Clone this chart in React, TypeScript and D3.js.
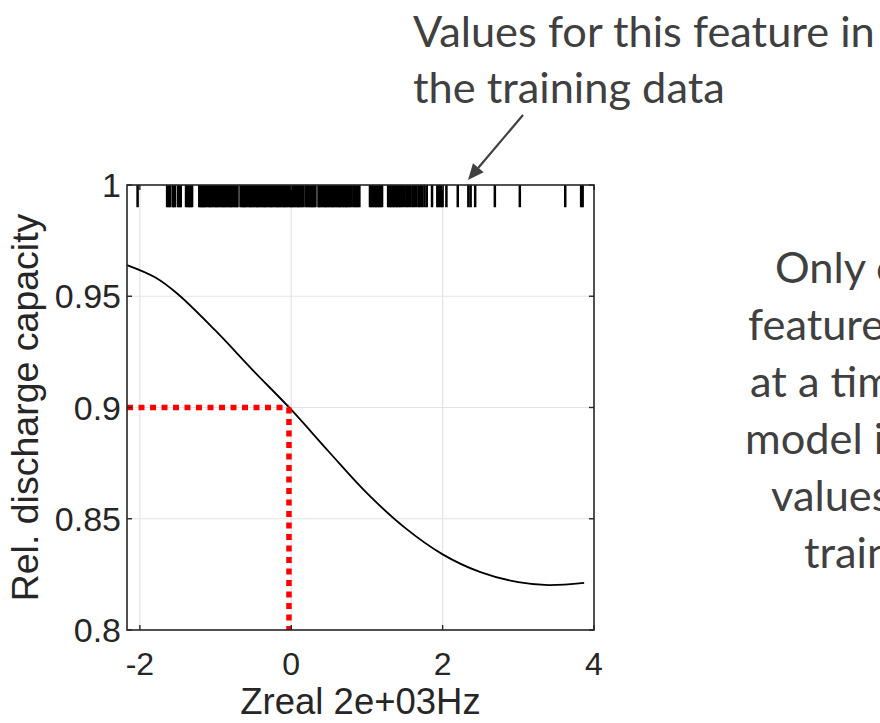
import React, { useEffect, useRef } from "react";
import * as d3 from "d3";

// ---- data ----
const curveX = [-2.17, -1.8, -1.5, -1.0, -0.5, 0, 0.5, 1.0, 1.5, 2.0, 2.5, 3.0, 3.4, 3.87];
const curveY = [0.964, 0.9585, 0.951, 0.9345, 0.9165, 0.899, 0.88, 0.8615, 0.846, 0.834, 0.826, 0.8215, 0.8202, 0.8212];

const rugValues = [
  -2.03, -1.64, -1.62, -1.6, -1.565, -1.55, -1.535, -1.495, -1.475, -1.46,
  -1.39, -1.37, -1.35, -1.33, -1.31, -1.215, -1.2, -1.185, -1.17, -1.155, -1.14, -1.125,
  -1.1, -1.08, -1.07, -1.05, -1.03, -1.01, -0.99, -0.98, -0.96, -0.94, -0.92, -0.9, -0.89, -0.87, -0.85,
  -0.83, -0.81, -0.8, -0.78, -0.76, -0.74, -0.72, -0.71, -0.67, -0.65, -0.63, -0.62, -0.6, -0.58,
  -0.56, -0.54, -0.53, -0.51, -0.49, -0.47, -0.45, -0.44, -0.42, -0.4, -0.38, -0.36, -0.35, -0.33, -0.31,
  -0.29, -0.27, -0.26, -0.24, -0.22, -0.2, -0.18, -0.17, -0.15, -0.13, -0.11, -0.09, -0.08, -0.06, -0.04,
  -0.02, 0.0, 0.01, 0.03, 0.05, 0.07, 0.09, 0.1, 0.12, 0.14, 0.16, 0.19, 0.21, 0.23, 0.25, 0.27,
  0.28, 0.3, 0.32, 0.36, 0.37, 0.39, 0.41, 0.43, 0.45, 0.46, 0.48, 0.5, 0.52, 0.54, 0.55, 0.57, 0.59,
  0.61, 0.63, 0.64, 0.66, 0.68, 0.7, 0.72, 0.73, 0.75, 0.77, 0.79, 0.82, 0.84, 0.86, 0.88, 0.9,
  1.04, 1.06, 1.08, 1.1, 1.12, 1.14, 1.16, 1.18, 1.2,
  1.28, 1.3, 1.32, 1.34, 1.36, 1.38, 1.4, 1.42, 1.44, 1.46,
  1.49, 1.52, 1.54, 1.57, 1.6, 1.62, 1.65, 1.68, 1.7, 1.73, 1.76, 1.79,
  1.86, 1.93, 1.95, 1.98, 2.0, 2.05, 2.2, 2.34, 2.37, 2.43, 2.69, 3.02, 3.62, 3.83, 3.85,
];

const xTicks = [-2, 0, 2, 4];
const yTicks = [0.8, 0.85, 0.9, 0.95, 1];
const yTickLabels = ["0.8", "0.85", "0.9", "0.95", "1"];
const markerX = -0.03;
const markerY = 0.9;
const xLabel = "Zreal 2e+03Hz";
const yLabel = "Rel. discharge capacity";
const noteTop = ["Values for this feature in", "the training data"];
const noteRight = ["Only one", "feature changed", "at a time; the", "model is evaluated", "values from the", "training data"];
const noteRightX = [775, 748, 750, 745, 771, 804];

const W = 880;
const H = 723;
const PLOT = { left: 127, right: 594, top: 185, bottom: 630 };

export default function App() {
  const ref = useRef<SVGSVGElement | null>(null);

  useEffect(() => {
    const svg = d3.select(ref.current);
    svg.selectAll("*").remove();

    const x = d3.scaleLinear().domain([-2.17, 4.0]).range([PLOT.left, PLOT.right]);
    const y = d3.scaleLinear().domain([0.8, 1]).range([PLOT.bottom, PLOT.top]);

    const axisColor = "#262626";
    const gridColor = "#e3e3e3";
    const tickFont = "'Liberation Sans', Arial, Helvetica, sans-serif";

    svg.append("rect").attr("x", PLOT.left).attr("y", PLOT.top)
      .attr("width", PLOT.right - PLOT.left).attr("height", PLOT.bottom - PLOT.top).attr("fill", "#fff");

    // grid
    const g = svg.append("g");
    g.selectAll("line.gx").data(xTicks.filter((t) => t > -2.17 && t < 4)).enter().append("line")
      .attr("x1", (d) => x(d)).attr("x2", (d) => x(d))
      .attr("y1", PLOT.top).attr("y2", PLOT.bottom)
      .attr("stroke", gridColor).attr("stroke-width", 1.2);
    g.selectAll("line.gy").data(yTicks.filter((t) => t > 0.8 && t < 1)).enter().append("line")
      .attr("y1", (d) => y(d)).attr("y2", (d) => y(d))
      .attr("x1", PLOT.left).attr("x2", PLOT.right)
      .attr("stroke", gridColor).attr("stroke-width", 1.2);

    // curve
    const pts = curveX.map((v, i) => [v, curveY[i]] as [number, number]);
    const line = d3.line<[number, number]>().x((d) => x(d[0])).y((d) => y(d[1])).curve(d3.curveCatmullRom);
    svg.append("path").attr("d", line(pts)).attr("fill", "none").attr("stroke", "#000").attr("stroke-width", 1.8);

    // red dotted marker lines
    svg.append("path")
      .attr("d", `M${x(-2.17)},${y(markerY)}H${x(markerX)}`)
      .attr("stroke", "#ff0000").attr("stroke-width", 5.5).attr("stroke-dasharray", "6 5.5").attr("fill", "none");
    svg.append("path")
      .attr("d", `M${x(markerX)},${y(markerY)}V${y(0.8)}`)
      .attr("stroke", "#ff0000").attr("stroke-width", 5.5).attr("stroke-dasharray", "6 5.5").attr("fill", "none");

    // rug
    svg.append("g").selectAll("line").data(rugValues).enter().append("line")
      .attr("x1", (d) => x(d)).attr("x2", (d) => x(d))
      .attr("y1", y(1)).attr("y2", y(0.99))
      .attr("stroke", "#000").attr("stroke-width", 2.5);

    // box
    svg.append("rect").attr("x", PLOT.left).attr("y", PLOT.top)
      .attr("width", PLOT.right - PLOT.left).attr("height", PLOT.bottom - PLOT.top)
      .attr("fill", "none").attr("stroke", axisColor).attr("stroke-width", 1.6);

    // tick marks
    const tl = 5;
    xTicks.forEach((t) => {
      svg.append("line").attr("x1", x(t)).attr("x2", x(t)).attr("y1", PLOT.bottom).attr("y2", PLOT.bottom - tl)
        .attr("stroke", axisColor).attr("stroke-width", 1.4);
      svg.append("line").attr("x1", x(t)).attr("x2", x(t)).attr("y1", PLOT.top).attr("y2", PLOT.top + tl)
        .attr("stroke", axisColor).attr("stroke-width", 1.4);
    });
    yTicks.forEach((t) => {
      svg.append("line").attr("x1", PLOT.left).attr("x2", PLOT.left + tl).attr("y1", y(t)).attr("y2", y(t))
        .attr("stroke", axisColor).attr("stroke-width", 1.4);
      svg.append("line").attr("x1", PLOT.right).attr("x2", PLOT.right - tl).attr("y1", y(t)).attr("y2", y(t))
        .attr("stroke", axisColor).attr("stroke-width", 1.4);
    });

    // tick labels
    svg.append("g").selectAll("text").data(xTicks).enter().append("text")
      .attr("x", (d) => x(d)).attr("y", 675).attr("text-anchor", "middle")
      .attr("font-family", tickFont).attr("font-size", 32).attr("fill", axisColor)
      .text((d) => String(d));
    svg.append("g").selectAll("text").data(yTicks).enter().append("text")
      .attr("x", PLOT.left - 6).attr("y", (d) => y(d)).attr("dy", "0.36em").attr("text-anchor", "end")
      .attr("font-family", tickFont).attr("font-size", 34).attr("fill", axisColor)
      .text((_, i) => yTickLabels[i]);

    // axis labels
    svg.append("text").attr("x", (PLOT.left + PLOT.right) / 2).attr("y", 714).attr("text-anchor", "middle")
      .attr("font-family", tickFont).attr("font-size", 36.5).attr("fill", axisColor).text(xLabel);
    svg.append("text").attr("transform", `translate(38,${(PLOT.top + PLOT.bottom) / 2}) rotate(-90)`)
      .attr("text-anchor", "middle")
      .attr("font-family", tickFont).attr("font-size", 37.5).attr("fill", axisColor).text(yLabel);

    // annotations (font size fitted to the reference line width)
    const noteFont = "Lato, 'Open Sans', 'Noto Sans', sans-serif";
    const noteColor = "#404040";
    const probe = svg.append("text").attr("font-family", noteFont).attr("font-size", 100).text(noteTop[0]);
    const pw = (probe.node() as SVGTextElement).getComputedTextLength() || 1000;
    probe.remove();
    const fs = Math.max(30, Math.min(60, (100 * 462) / pw));

    noteTop.forEach((s, i) => {
      svg.append("text").attr("x", 413).attr("y", 47 + i * 56)
        .attr("font-family", noteFont).attr("font-size", fs).attr("fill", noteColor).text(s);
    });
    noteRight.forEach((s, i) => {
      svg.append("text").attr("x", noteRightX[i]).attr("y", 283 + i * 57)
        .attr("font-family", noteFont).attr("font-size", fs).attr("fill", noteColor).text(s);
    });

    // arrow
    const ax1 = 523, ay1 = 115, ax2 = 468, ay2 = 180;
    const ang = Math.atan2(ay2 - ay1, ax2 - ax1);
    const hl = 16, hw = 7;
    const bx = ax2 - hl * Math.cos(ang), by = ay2 - hl * Math.sin(ang);
    svg.append("line").attr("x1", ax1).attr("y1", ay1).attr("x2", bx).attr("y2", by)
      .attr("stroke", noteColor).attr("stroke-width", 2.2);
    svg.append("path")
      .attr("d", `M${ax2},${ay2}L${bx + hw * Math.sin(ang)},${by - hw * Math.cos(ang)}L${bx - hw * Math.sin(ang)},${by + hw * Math.cos(ang)}Z`)
      .attr("fill", noteColor);
  }, []);

  return (
    <div style={{ position: "absolute", left: 0, top: 0, width: W, height: H, overflow: "hidden", background: "#fff" }}>
      <svg ref={ref} width={W} height={H} style={{ display: "block" }} />
    </div>
  );
}
